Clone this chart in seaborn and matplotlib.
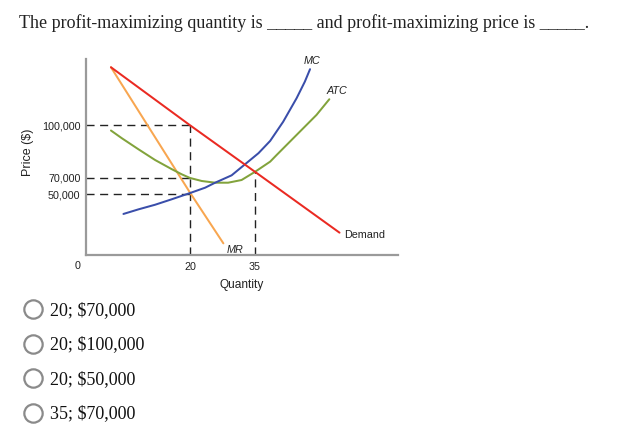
import numpy as np
import pandas as pd
import matplotlib
matplotlib.use("Agg")
import matplotlib.pyplot as plt
import seaborn as sns
from matplotlib import font_manager
from matplotlib.lines import Line2D

# ---------------- data ----------------
question = "The profit-maximizing quantity is _____ and profit-maximizing price is _____."
options = ["20; $70,000", "20; $100,000", "20; $50,000", "35; $70,000"]

demand_q = [4.8, 20, 35, 54.5]
demand_p = [133000, 100000, 73500, 18400]

mr_q = [4.8, 20, 27.7]
mr_p = [133000, 52000, 9600]

atc_q = [4.8, 6.9, 10.1, 13.3, 16.5, 18.4, 20, 22.7, 25.8, 28.8, 31.9, 35,
         38.5, 40.0, 44.6, 49.2, 52.15]
atc_p = [97000, 92600, 86300, 80200, 75000, 72100, 70000, 66300, 64200, 64200, 67500,
         73500, 79300, 83100, 94500, 105900, 114800]

mc_q = [7.2, 10.1, 13.3, 16.5, 20, 23.5, 25.8, 29.6, 32.7, 35.8, 38.5, 41.5, 44.6,
        46.5, 47.7]
mc_p = [33800, 37600, 41400, 45900, 51500, 58100, 64200, 71500, 77800, 84100, 91100,
        102000, 115400, 124800, 131900]

x_ticks = [20, 35]
x_tick_labels = ["20", "35"]
y_ticks = [50000, 70000, 100000]
y_tick_labels = ["50,000", "70,000", "100,000"]

guide_h_p = [100000, 70000, 50000]   # dashed horizontals, from 0 to q=20
guide_v_q = [20, 35]                 # dashed verticals
guide_v_top = [100000, 73500]

# ---------------- fonts ----------------
sns.set_style("white")
avail = {f.name for f in font_manager.fontManager.ttflist}
if "Liberation Sans Narrow" in avail:
    sans, k = "Liberation Sans Narrow", 1.0
else:
    sans, k = "Liberation Sans", 0.86
serif = "Liberation Serif"
plt.rcParams["font.family"] = [sans, "DejaVu Sans"]
plt.rcParams["lines.scale_dashes"] = False

W, H = 625, 440
fig = plt.figure(figsize=(W / 100, H / 100), dpi=100)

ax_l, ax_r, ax_t, ax_b = 86, 398, 59, 255
ax = fig.add_axes([ax_l / W, 1 - ax_b / H, (ax_r - ax_l) / W, (ax_b - ax_t) / H])

red = "#ea2a22"
orange = "#f8a650"
green = "#82a33c"
blue = "#3a4eaa"
gray = "#9a9a9a"

lw = 1.45
sns.lineplot(x=mr_q, y=mr_p, ax=ax, color=orange, linewidth=lw, sort=False, estimator=None)
sns.lineplot(x=atc_q, y=atc_p, ax=ax, color=green, linewidth=lw, sort=False, estimator=None)
sns.lineplot(x=mc_q, y=mc_p, ax=ax, color=blue, linewidth=lw, sort=False, estimator=None)
sns.lineplot(x=demand_q, y=demand_p, ax=ax, color=red, linewidth=lw, sort=False, estimator=None)
for ln in ax.get_lines():
    ln.set_solid_joinstyle("round")

dash = (0, (5.8, 4.0))
for p in guide_h_p:
    ax.plot([0, 20], [p, p], color="#222222", lw=1.0, ls=dash, zorder=1)
for q, top in zip(guide_v_q, guide_v_top):
    ax.plot([q, q], [0, top], color="#222222", lw=1.0, ls=dash, zorder=1)

# piecewise (non-to-scale) axes like the textbook diagram
xk_d = np.array([-100, 0, 20, 35, 300.0])
xk_p = np.array([-520, 0, 104, 169, 169 + 265 * 4.333])
yk_d = np.array([-1e6, 0, 50000, 70000, 100000, 1e6])
yk_p = np.array([-1214, 0, 60.7, 77, 129.7, 129.7 + 900000 * 52.7 / 30000])

ax.set_xscale("function", functions=(lambda v: np.interp(v, xk_d, xk_p),
                                     lambda v: np.interp(v, xk_p, xk_d)))
ax.set_yscale("function", functions=(lambda v: np.interp(v, yk_d, yk_p),
                                     lambda v: np.interp(v, yk_p, yk_d)))
ax.set_xlim(0, 68.0)
ax.set_ylim(0, 137700)

ax.set_xticks(x_ticks)
ax.set_xticklabels(x_tick_labels)
ax.set_yticks(y_ticks)
ax.set_yticklabels(y_tick_labels)
ax.minorticks_off()
ax.tick_params(axis="x", length=3, width=1, color=gray, pad=2, labelsize=9 * k, labelcolor="#222222")
ax.tick_params(axis="y", length=0, pad=4, labelsize=9 * k, labelcolor="#222222")

for s in ["top", "right"]:
    ax.spines[s].set_visible(False)
for s in ["left", "bottom"]:
    ax.spines[s].set_color(gray)
    ax.spines[s].set_linewidth(1.6)
ax.set_facecolor("none")
ax.grid(False)

ax.set_xlabel("Quantity", fontsize=10 * k, color="#222222", va="top")
ax.xaxis.set_label_coords((242 - ax_l) / (ax_r - ax_l), (ax_b - 279) / (ax_b - ax_t))
ax.set_ylabel("Price ($)", fontsize=10.5 * k, color="#222222", va="center", ha="center")
ax.yaxis.set_label_coords((28 - ax_l) / (ax_r - ax_l), (ax_b - 152.5) / (ax_b - ax_t))

def fx(px):
    return px / W

def fy(py):
    return 1 - py / H

fig.text(fx(78), fy(266), "0", fontsize=9 * k, color="#222222", ha="center", va="center")

lab = dict(fontsize=9 * k, color="#222222", va="center")
fig.text(fx(312), fy(61), "MC", ha="center", style="italic", **lab)
fig.text(fx(337), fy(91), "ATC", ha="center", style="italic", **lab)
fig.text(fx(235), fy(250), "MR", ha="center", style="italic", **lab)
fig.text(fx(344), fy(234.5), "Demand", ha="left", **lab)

# question text
fig.text(fx(19), fy(27.5), question, family=serif, fontsize=13, color="#222222",
         ha="left", va="baseline")

ys = [309.3, 343.6, 378.3, 412.7]
for yy, opt in zip(ys, options):
    fig.add_artist(Line2D([fx(33.3)], [fy(yy)], marker="o", markersize=13.2,
                          markerfacecolor="white", markeredgecolor="#8a8a8a",
                          markeredgewidth=1.6, transform=fig.transFigure))
    fig.text(fx(50), fy(yy + 5.8), opt, family=serif, fontsize=13, color="#111111",
             ha="left", va="baseline")

fig.savefig("out.png", dpi=100)
